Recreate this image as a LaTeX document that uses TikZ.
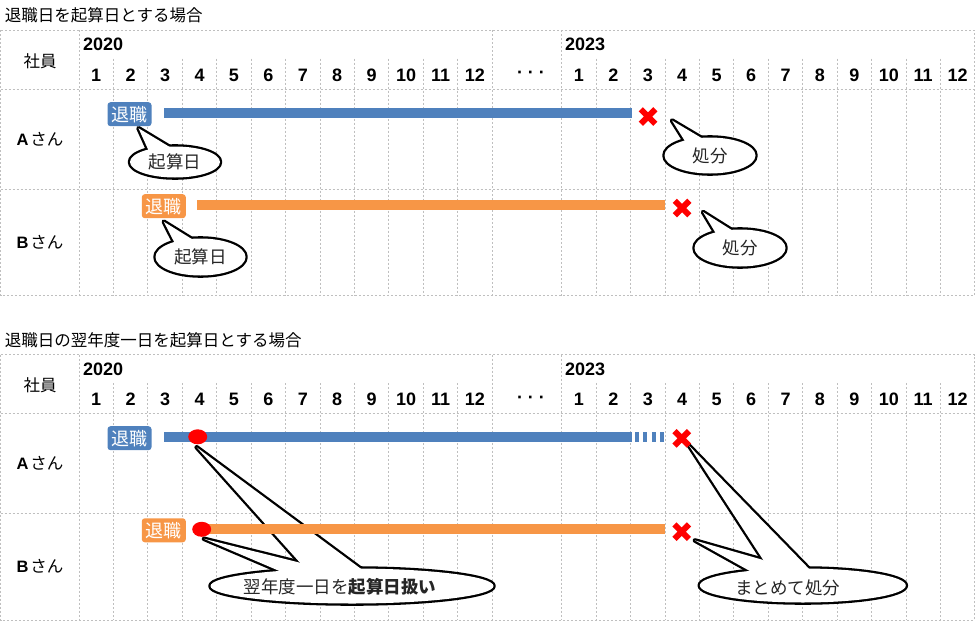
\documentclass[tikz,border=0pt]{standalone}
\usepackage{fontspec}
\setmainfont{Noto Sans CJK JP}
\newfontfamily\arialfont{Liberation Sans}
\usetikzlibrary{positioning, shapes.geometric, shapes.misc}
\definecolor{taiblue}{HTML}{4F81BD}
\definecolor{taiorange}{HTML}{F79646}
\definecolor{gridgray}{HTML}{BFBFBF}
\pgfdeclarelayer{bg}
\pgfsetlayers{bg,main}

\begin{document}
\begin{tikzpicture}[x=1pt, y=-1pt,
  every node/.style={inner sep=0pt, outer sep=0pt},
  gridline/.style={draw=gridgray, line width=0.9pt, dash pattern=on 2pt off 2pt},
  num/.style={font=\arialfont\bfseries\fontsize{18}{18}\selectfont},
  jp/.style={font=\fontsize{16.5}{16.5}\selectfont},
  taibox/.style={fill=#1, rounded corners=3pt, minimum width=44pt, minimum height=24pt, text=white, font=\fontsize{18}{18}\selectfont},
  batsu/.style={cross out, draw=red, line width=6pt, minimum size=14.5pt},
  reddot/.style={ellipse, fill=red, minimum width=19pt, minimum height=15pt},
  bubline/.style={draw=black, line width=4.6pt, line join=round},
  bubtext/.style={ellipse, fill=white, text=black!85, font=\fontsize{17.5}{17.5}\selectfont}]
\useasboundingbox (0,0) rectangle (975,621);
% Titles
\node[jp, anchor=west] (title1) at (5,15) {退職日を起算日とする場合};
\node[jp, anchor=west] (title2) at (5,340.5) {退職日の翌年度一日を起算日とする場合};
% Table heads
\foreach \oy/\t in {0/a,324.5/b} {
  \node[jp] (staff\t) at (40,61+\oy) {社員};
  \node[num, anchor=west] (y20\t) at (83,44.5+\oy) {2020};
  \node[num, anchor=west] (y23\t) at (565,44.5+\oy) {2023};
  \node[num] (dots\t) at (531,75+\oy) {· · ·};
  \foreach \m in {1,...,12} {
    \node[num] (m20\t\m) at (61.8+\m*34.43,75+\oy) {\m};
    \node[num] (m23\t\m) at (544.5+\m*34.43,75+\oy) {\m};
  }
  \node[jp] (empA\t) at (40,139+\oy) {{\arialfont\bfseries A}\kern2pt さん};
  \node[jp] (empB\t) at (40,242+\oy) {{\arialfont\bfseries B}\kern2pt さん};
}
% Case 1: retirement day
\node[taibox=taiblue] (taiA) at (129.5,114.2) {退職};
\fill[taiblue] (164,108) rectangle (631.7,118);
\node[batsu] (xA) at (648,116.5) {};
\node[taibox=taiorange] (taiB) at (163.8,206.2) {退職};
\fill[taiorange] (197,200) rectangle (665,210);
\node[batsu] (xB) at (682,208) {};
\coordinate (shobunAtip) at (672,120.5);
\coordinate (shobunBtip) at (703,212);
% Case 2: first day of next fiscal year
\node[taibox=taiblue] (taiA2) at (129.5,438.2) {退職};
\fill[taiblue] (164,432.3) rectangle (631.7,442.3);
\draw[taiblue, line width=10pt, dash pattern=on 4pt off 4.4pt] (635,437.3) -- (665,437.3);
\node[reddot] (dotA) at (197.7,436.8) {};
\node[batsu] (xA2) at (681.7,438.3) {};
\node[taibox=taiorange] (taiB2) at (163.8,530.3) {退職};
\fill[taiorange] (201,524.3) rectangle (665,534.3);
\node[reddot] (dotB) at (201.7,529.3) {};
\node[batsu] (xB2) at (681.7,531.7) {};

\begin{pgfonlayer}{bg}
% Grid
\foreach \oy in {0,324.5} {
  \draw[gridline] (0.5,30+\oy) rectangle (974,295.7+\oy);
  \draw[gridline] (0.5,89.3+\oy) -- (974,89.3+\oy);
  \draw[gridline] (0.5,189+\oy) -- (974,189+\oy);
  \foreach \x in {79,492.2,561.7} \draw[gridline] (\x,30+\oy) -- (\x,295.7+\oy);
  \foreach \i in {1,...,11} {
    \draw[gridline] (79+\i*34.43,58.7+\oy) -- (79+\i*34.43,295.7+\oy);
    \draw[gridline] (561.7+\i*34.43,58.7+\oy) -- (561.7+\i*34.43,295.7+\oy);
  }
}
% Callouts: outlines first
\draw[bubline] ([xshift=9pt,yshift=-2pt]taiA.south) -- (150.6,155) -- (183,155) -- cycle;
\node[ellipse, bubline, minimum width=90pt, minimum height=31pt] (kisanA-o) at (175,162) {};
\draw[bubline] (shobunAtip) -- (688,146) -- (715,146) -- cycle;
\node[ellipse, bubline, minimum width=91pt, minimum height=36pt] (shobunA-o) at (710,155.5) {};
\draw[bubline] ([yshift=-3.5pt]taiB.south) -- (176.7,247) -- (204.7,247) -- cycle;
\node[ellipse, bubline, minimum width=90pt, minimum height=37pt] (kisanB-o) at (200.5,257) {};
\draw[bubline] (shobunBtip) -- (718.6,238) -- (744.3,238) -- cycle;
\node[ellipse, bubline, minimum width=91pt, minimum height=37pt] (shobunB-o) at (740,248) {};
\draw[bubline] ([xshift=-1pt,yshift=-3pt]dotA.south) -- (311,575) -- (369.3,575) -- cycle;
\draw[bubline] ([xshift=2.3pt,yshift=-2pt]dotB.south) -- (288.8,575) -- (318,573) -- (300,562.7) -- cycle;
\node[ellipse, bubline, minimum width=283pt, minimum height=35pt] (yokunen-o) at (352,586) {};
\draw[bubline] (xA2.south east) -- (773,575) -- (815,575) -- cycle;
\draw[bubline] ([xshift=6pt,yshift=-1.5pt]xB2.south east) -- (757,575) -- (782,573) -- (763.3,560) -- cycle;
\node[ellipse, bubline, minimum width=206pt, minimum height=34pt] (matome-o) at (802.8,585.5) {};
% Callouts: white fills and texts
\fill[white] ([xshift=9pt,yshift=-2pt]taiA.south) -- (150.6,155) -- (183,155) -- cycle;
\node[bubtext, minimum width=90pt, minimum height=31pt] (kisanA) at (175,162) {起算日};
\fill[white] (shobunAtip) -- (688,146) -- (715,146) -- cycle;
\node[bubtext, minimum width=91pt, minimum height=36pt] (shobunA) at (710,155.5) {処分};
\fill[white] ([yshift=-3.5pt]taiB.south) -- (176.7,247) -- (204.7,247) -- cycle;
\node[bubtext, minimum width=90pt, minimum height=37pt] (kisanB) at (200.5,257) {起算日};
\fill[white] (shobunBtip) -- (718.6,238) -- (744.3,238) -- cycle;
\node[bubtext, minimum width=91pt, minimum height=37pt] (shobunB) at (740,248) {処分};
\fill[white] ([xshift=-1pt,yshift=-3pt]dotA.south) -- (311,575) -- (369.3,575) -- cycle;
\fill[white] ([xshift=2.3pt,yshift=-2pt]dotB.south) -- (288.8,575) -- (318,573) -- (300,562.7) -- cycle;
\node[bubtext, minimum width=283pt, minimum height=35pt] (yokunen) at (352,586) {};
\fill[white] (xA2.south east) -- (773,575) -- (815,575) -- cycle;
\fill[white] ([xshift=6pt,yshift=-1.5pt]xB2.south east) -- (757,575) -- (782,573) -- (763.3,560) -- cycle;
\node[bubtext, minimum width=206pt, minimum height=34pt] (matome) at (802.8,585.5) {};
\node[bubtext, fill=none] (yokunentxt) at (340,587) {翌年度一日を\textbf{起算日扱い}};
\node[bubtext, fill=none] (matometxt) at (787.5,588) {まとめて処分};
\end{pgfonlayer}
\end{tikzpicture}
\end{document}
